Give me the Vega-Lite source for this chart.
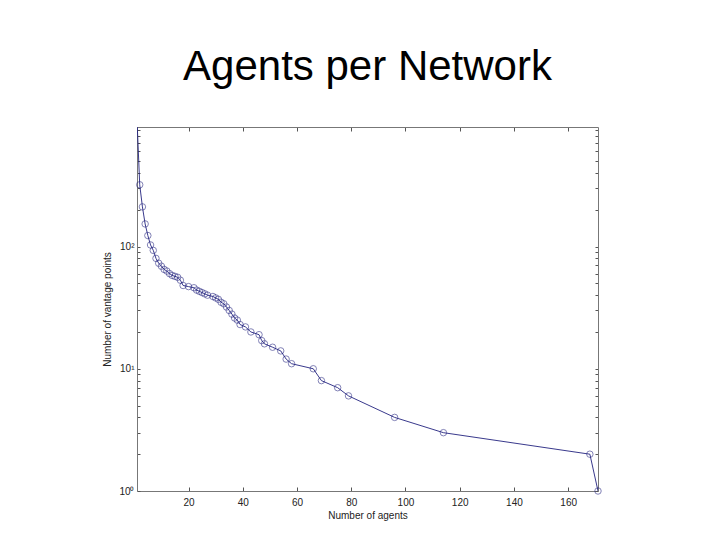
{
  "$schema": "https://vega.github.io/schema/vega-lite/v6.json",
  "autosize": "none",
  "width": 461,
  "height": 364,
  "padding": {"left": 137, "top": 127, "right": 122, "bottom": 49},
  "background": "white",
  "title": {
    "text": "Agents per Network",
    "font": "Liberation Sans",
    "fontSize": 42,
    "fontWeight": "normal",
    "color": "black",
    "anchor": "middle",
    "baseline": "alphabetic",
    "offset": -6
  },
  "config": {
    "view": {"stroke": null},
    "axis": {
      "labelFont": "Liberation Sans",
      "titleFont": "Liberation Sans",
      "labelFontSize": 10,
      "titleFontSize": 10,
      "titleFontWeight": "normal",
      "labelColor": "#222",
      "titleColor": "#222",
      "domainColor": "#777",
      "tickColor": "#555",
      "grid": false
    }
  },
  "data": {
    "values": [
      {"agents": 1, "vp": 1100},
      {"agents": 2, "vp": 320},
      {"agents": 3, "vp": 211},
      {"agents": 4, "vp": 153},
      {"agents": 5, "vp": 123},
      {"agents": 6, "vp": 103},
      {"agents": 7, "vp": 93},
      {"agents": 8, "vp": 80},
      {"agents": 9, "vp": 73},
      {"agents": 10, "vp": 69},
      {"agents": 11, "vp": 65},
      {"agents": 12, "vp": 63},
      {"agents": 13, "vp": 60},
      {"agents": 14, "vp": 58},
      {"agents": 15, "vp": 57},
      {"agents": 16, "vp": 56},
      {"agents": 17, "vp": 53},
      {"agents": 18, "vp": 48},
      {"agents": 20, "vp": 47},
      {"agents": 22, "vp": 46},
      {"agents": 23, "vp": 44},
      {"agents": 24, "vp": 43},
      {"agents": 25, "vp": 42},
      {"agents": 26, "vp": 41},
      {"agents": 27, "vp": 40},
      {"agents": 29, "vp": 39},
      {"agents": 30, "vp": 38},
      {"agents": 31, "vp": 37},
      {"agents": 32, "vp": 35},
      {"agents": 33, "vp": 34},
      {"agents": 34, "vp": 32},
      {"agents": 35, "vp": 30},
      {"agents": 36, "vp": 28},
      {"agents": 37, "vp": 26},
      {"agents": 38, "vp": 25},
      {"agents": 39, "vp": 23},
      {"agents": 41, "vp": 22},
      {"agents": 43, "vp": 20},
      {"agents": 46, "vp": 19},
      {"agents": 47, "vp": 17},
      {"agents": 48, "vp": 16},
      {"agents": 51, "vp": 15},
      {"agents": 54, "vp": 14},
      {"agents": 56, "vp": 12},
      {"agents": 58, "vp": 11},
      {"agents": 66, "vp": 10},
      {"agents": 69, "vp": 8},
      {"agents": 75, "vp": 7},
      {"agents": 79, "vp": 6},
      {"agents": 96, "vp": 4},
      {"agents": 114, "vp": 3},
      {"agents": 168, "vp": 2},
      {"agents": 171, "vp": 1}
    ]
  },
  "resolve": {"axis": {"x": "independent", "y": "independent"}},
  "layer": [
    {
      "mark": {"type": "line", "color": "#23237f", "strokeWidth": 0.9, "clip": true},
      "encoding": {
        "x": {
          "field": "agents", "type": "quantitative",
          "scale": {"domain": [1, 171], "nice": false, "zero": false},
          "axis": {
            "orient": "bottom", "title": "Number of agents",
            "values": [20, 40, 60, 80, 100, 120, 140, 160],
            "tickSize": -4, "labelPadding": 10, "titlePadding": 3,
            "labelFlush": false
          }
        },
        "y": {
          "field": "vp", "type": "quantitative",
          "scale": {"type": "log", "domain": [1, 950], "nice": false},
          "axis": {
            "orient": "left", "title": "Number of vantage points",
            "values": [1, 2, 3, 4, 5, 6, 7, 8, 9, 10, 20, 30, 40, 50, 60, 70, 80, 90, 100, 200, 300, 400, 500, 600, 700, 800, 900],
            "labelExpr": "datum.value == 1 ? '10⁰' : datum.value == 10 ? '10¹' : datum.value == 100 ? '10²' : ''",
            "tickSize": -3, "labelPadding": 6, "titlePadding": 6,
            "labelFlush": false
          }
        }
      }
    },
    {
      "transform": [{"filter": "datum.vp <= 950"}],
      "mark": {"type": "point", "shape": "circle", "filled": false, "color": "#23237f", "size": 42, "strokeWidth": 0.8, "clip": false},
      "encoding": {
        "x": {"field": "agents", "type": "quantitative", "axis": null},
        "y": {"field": "vp", "type": "quantitative", "scale": {"type": "log"}, "axis": null}
      }
    },
    {
      "mark": {"type": "point", "opacity": 0},
      "encoding": {
        "x": {
          "field": "agents", "type": "quantitative",
          "axis": {"orient": "top", "title": null, "labels": false,
                   "values": [20, 40, 60, 80, 100, 120, 140, 160], "tickSize": -4}
        },
        "y": {
          "field": "vp", "type": "quantitative", "scale": {"type": "log"},
          "axis": {"orient": "right", "title": null, "labels": false,
                   "values": [1, 2, 3, 4, 5, 6, 7, 8, 9, 10, 20, 30, 40, 50, 60, 70, 80, 90, 100, 200, 300, 400, 500, 600, 700, 800, 900],
                   "tickSize": -3}
        }
      }
    }
  ]
}
